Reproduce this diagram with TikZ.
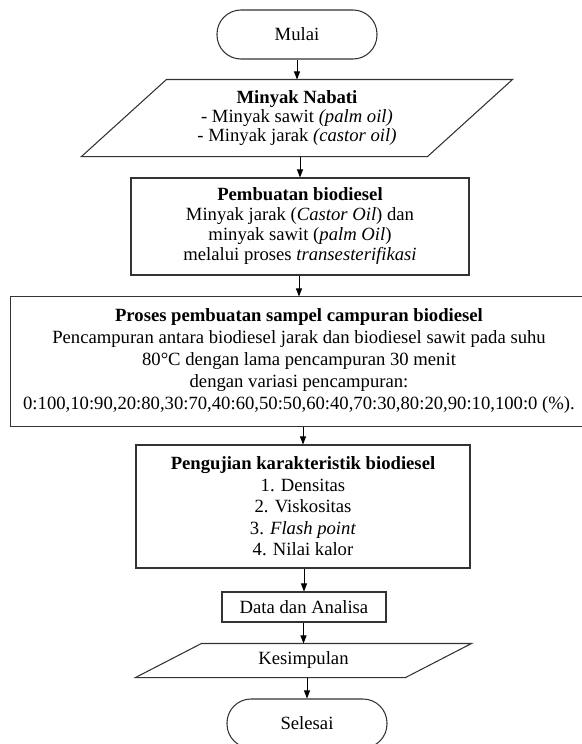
\documentclass[tikz,border=0pt]{standalone}
\usepackage{fontspec}
\setmainfont{Liberation Serif}
\usetikzlibrary{arrows.meta}

\begin{document}
\def\px{0.75pt}
\begin{tikzpicture}[x=\px, y=-\px,
    % Define the style for each kind of block
    outline/.style={draw=black!80, line width=0.8pt},
    block/.style={outline, align=center, inner sep=0pt,
        font=\fontsize{14}{15}\selectfont},
    terminal/.style={block, rectangle, rounded corners=18pt,
        minimum width=160*\px, minimum height=49*\px},
    process/.style={block, rectangle},
    inout/.style={block, draw=none, rectangle},
    % Define the style for the connecting arrows
    flow/.style={-{Triangle[length=6pt,width=4.5pt]}, line width=0.7pt}
]

% Fix the size of the page
\useasboundingbox (0,0) rectangle (582,744);

% Start and input
\node[terminal] (mulai) at (297,34.5) {Mulai};
\node[inout, minimum width=345*\px, minimum height=76*\px,
    font=\fontsize{14}{14.6}\selectfont] (nabati) at (297,118)
    {\textbf{Minyak Nabati}\\
     - Minyak sawit \textit{(palm oil)}\\
     - Minyak jarak \textit{(castor oil)}};

% Processing steps
\node[process, minimum width=338*\px, minimum height=97*\px] (buat) at (300,226.5)
    {\textbf{Pembuatan biodiesel}\\
     Minyak jarak (\textit{Castor Oil}) dan\\
     minyak sawit (\textit{palm Oil})\\
     melalui proses \textit{transesterifikasi}};
\node[process, draw=none, minimum width=576*\px, minimum height=129*\px,
    font=\fontsize{14}{16.5}\selectfont] (campur) at (299,361.5)
    {\textbf{Proses pembuatan sampel campuran biodiesel}\\
     Pencampuran antara biodiesel jarak dan biodiesel sawit pada suhu\\
     80°C dengan lama pencampuran 30 menit\\
     dengan variasi pencampuran:\\
     0:100,10:90,20:80,30:70,40:60,50:50,60:40,70:30,80:20,90:10,100:0 (\%).};
\draw[outline] (campur.north west) rectangle ([xshift=30*\px]campur.south east);
\node[process, minimum width=334*\px, minimum height=123*\px,
    font=\fontsize{14}{16.1}\selectfont] (uji) at (303,506.5)
    {\textbf{Pengujian karakteristik biodiesel}\\
     1. Densitas\\
     2. Viskositas\\
     3. \textit{Flash point}\\
     4. Nilai kalor};
\node[process, minimum width=164*\px, minimum height=30*\px] (analisa) at (304,607)
    {Data dan Analisa};

% Output and end
\node[inout, minimum width=269*\px, minimum height=33*\px] (simpul) at (303.5,660.5)
    {Kesimpulan};
\node[terminal] (selesai) at (307,723.5) {Selesai};

% Slanted sides of the input and output blocks
\foreach \n/\s in {nabati/42.5, simpul/33}
    \draw[outline] ([xshift=\s*\px]\n.north west) -- ([xshift=\s*\px]\n.north east)
        -- ([xshift=-\s*\px]\n.south east) -- ([xshift=-\s*\px]\n.south west) -- cycle;

% Connect the blocks from top to bottom
\foreach \from/\to in {mulai/nabati, nabati/buat, buat/campur, campur/uji,
                       uji/analisa, analisa/simpul, simpul/selesai}
    \draw[flow] (\from.south -| \to.north) -- (\to.north);

\end{tikzpicture}
\end{document}
